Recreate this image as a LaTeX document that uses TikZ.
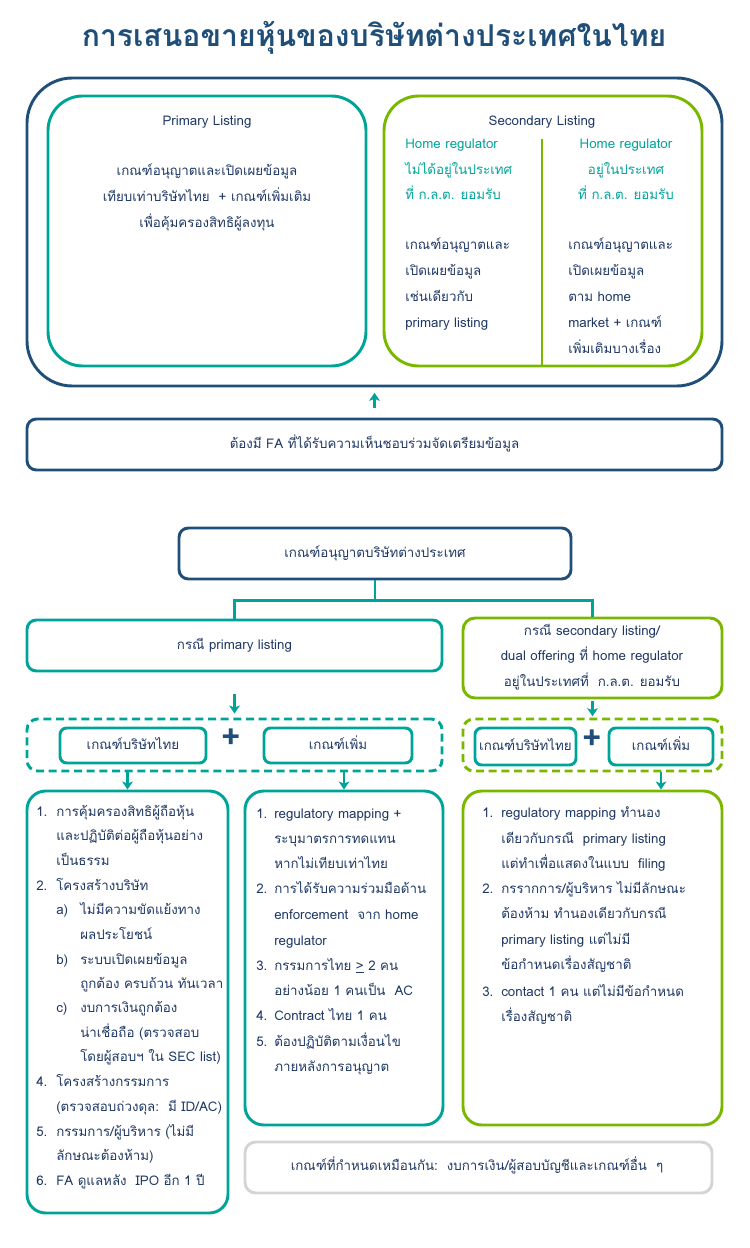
\documentclass[tikz,border=0pt]{standalone}
\usepackage{fontspec}
\setmainfont[Script=Thai]{Loma}
\usetikzlibrary{arrows.meta,fit}

\definecolor{navyline}{RGB}{31,78,121}
\definecolor{tealline}{RGB}{0,163,152}
\definecolor{greenline}{RGB}{122,184,0}
\definecolor{greyline}{RGB}{212,212,212}
\definecolor{inkblue}{RGB}{31,56,100}

\tikzset{
  boxline/.style={draw=#1, line width=2.2pt, inner sep=0pt},
  txt/.style={inner sep=0pt, text height=8pt, text depth=2.5pt},
  lefttxt/.style={txt, anchor=west},
  flow/.style={draw=tealline, line width=2pt, -{Stealth[length=6pt,width=8pt,inset=1.5pt]}},
  branch/.style={draw=tealline, line width=2pt},
  mixdash/.style={dash pattern=on 6pt off 3.5pt},
  plussign/.style={txt, text=navyline, font=\fontsize{25}{25}\selectfont\bfseries},
}

\begin{document}
\begin{tikzpicture}[x=0.75pt, y=-0.75pt, font=\fontsize{10}{12}\selectfont, text=inkblue]
\useasboundingbox (0,0) rectangle (749,1248);

% title
\node[txt, text=navyline, font=\fontsize{22.6}{26}\selectfont\bfseries] (title) at (374,43) {การเสนอขายหุ้นของบริษัทต่างประเทศในไทย};

% listing types
\node[boxline=navyline, rounded corners=34pt, fit={(27,78) (722,386)}] (listing) {};
\node[boxline=tealline, rounded corners=26pt, fit={(48,96) (366,366)}] (primary) {};
\node[boxline=greenline, rounded corners=26pt, fit={(384,96) (702,366)}] (secondary) {};

\node[txt] (primarytitle) at (207,122) {Primary Listing};
\foreach \ypos/\linetext in {172/{เกณฑ์อนุญาตและเปิดเผยข้อมูล},198/{เทียบเท่าบริษัทไทย\ \ + เกณฑ์เพิ่มเติม},224/{เพื่อคุ้มครองสิทธิผู้ลงทุน}}
{
  \node[txt] (p\ypos) at (207,\ypos) {\linetext};
}

\node[txt] (secondarytitle) at (542,122) {Secondary Listing};
\coordinate (divtop) at (542,139);
\draw[greenline, line width=2.2pt] (divtop) -- (divtop |- secondary.south);

\foreach \ypos/\linetext in {145/{Home regulator},171/{ไม่ได้อยู่ในประเทศ},196/{ที่ ก.ล.ต. ยอมรับ}}
{
  \node[lefttxt, text=tealline] (sl\ypos) at (405,\ypos) {\linetext};
  }
\foreach \ypos/\linetext in {246/{เกณฑ์อนุญาตและ},272/{เปิดเผยข้อมูล},298/{เช่นเดียวกับ},324/{primary listing}}
{
  \node[lefttxt] (sl\ypos) at (405,\ypos) {\linetext};
}
\foreach \ypos/\linetext in {145/{Home regulator},171/{อยู่ในประเทศ},196/{ที่ ก.ล.ต. ยอมรับ}}
{
  \node[txt, text=tealline] (sr\ypos) at (626,\ypos) {\linetext};
}
\foreach \ypos/\linetext in {246/{เกณฑ์อนุญาตและ},272/{เปิดเผยข้อมูล},298/{ตาม home},324/{market + เกณฑ์},350/{เพิ่มเติมบางเรื่อง}}
{
  \node[lefttxt] (sr\ypos) at (568,\ypos) {\linetext};
}

% FA
\node[boxline=navyline, rounded corners=7pt, fit={(27,419) (722,470)}] (fa) {};
\node[txt] (fatext) at (fa.center) {ต้องมี FA ที่ได้รับความเห็นชอบร่วมจัดเตรียมข้อมูล};
\draw[flow, shorten <=7pt, shorten >=4pt] (fa.north) -- (listing.south);

% foreign company rules
\node[boxline=navyline, rounded corners=7pt, fit={(179,528) (571,579)}] (rules) {};
\node[txt] (rulestext) at (rules.center) {เกณฑ์อนุญาตบริษัทต่างประเทศ};

\node[boxline=tealline, rounded corners=7pt, fit={(27,620) (442,671)}] (primarycase) {};
\node[txt] (primarycasetext) at (primarycase.center) {กรณี primary listing};
\node[boxline=greenline, rounded corners=9pt, fit={(463,618) (722,698)}] (secondarycase) {};
\foreach \ypos/\linetext in {632/{กรณี secondary listing/},657/{dual offering ที่ home regulator},683/{อยู่ในประเทศที่\ \ ก.ล.ต. ยอมรับ}}
{
  \node[txt] (sc\ypos) at (592,\ypos) {\linetext};
}

\draw[branch] (rules.south) -- ++(0,20) coordinate (split);
\draw[branch] (split) -| (primarycase.north);
\draw[branch] (split) -| (secondarycase.north);

% thai + extra rules
\node[boxline=tealline, mixdash, rounded corners=8pt, fit={(27,719) (442,771)}] (primarymix) {};
\node[boxline=tealline, rounded corners=5pt, fit={(60,728) (206,763)}] (thaiA) {};
\node[txt] (thaiAtext) at (thaiA.center) {เกณฑ์บริษัทไทย};
\node[plussign] (plusA) at (231,745) {+};
\node[boxline=tealline, rounded corners=5pt, fit={(264,728) (412,763)}] (extraA) {};
\node[txt] (extraAtext) at (extraA.center) {เกณฑ์เพิ่ม};

\node[boxline=greenline, mixdash, rounded corners=8pt, fit={(463,719) (722,771)}] (secondarymix) {};
\node[boxline=tealline, rounded corners=5pt, fit={(475,728) (576,765)}] (thaiB) {};
\node[txt] (thaiBtext) at (thaiB.center) {เกณฑ์บริษัทไทย};
\node[plussign] (plusB) at (592,746) {+};
\node[boxline=tealline, rounded corners=5pt, fit={(609,728) (713,765)}] (extraB) {};
\node[txt] (extraBtext) at (extraB.center) {เกณฑ์เพิ่ม};

\draw[flow, shorten <=16pt, shorten >=3pt] (primarycase.south) -- (primarymix.north);
\draw[flow, shorten <=1pt, shorten >=1pt] (secondarycase.south) -- (secondarymix.north);

% detail lists
\node[boxline=tealline, rounded corners=14pt, fit={(27,791) (228,1213)}] (listA) {};
\node[boxline=tealline, rounded corners=14pt, fit={(245,791) (443,1125)}] (listB) {};
\node[boxline=greenline, rounded corners=14pt, fit={(463,791) (722,1125)}] (listC) {};
\node[boxline=greyline, rounded corners=8pt, fit={(245,1142) (712,1193)}] (common) {};
\node[txt] (commontext) at (477,1167) {เกณฑ์ที่กำหนดเหมือนกัน:\ \ งบการเงิน/ผู้สอบบัญชีและเกณฑ์อื่น\ \ ๆ};

\draw[flow] (listA.north |- primarymix.south) -- (listA.north);
\draw[flow] (listB.north |- primarymix.south) -- (listB.north);
\draw[flow] (extraB.south |- secondarymix.south) -- (extraB.south |- listC.north);

\foreach \xpos/\ypos/\linetext in {36/813/{1.},56/813/{การคุ้มครองสิทธิผู้ถือหุ้น},56/837/{และปฏิบัติต่อผู้ถือหุ้นอย่าง},56/862/{เป็นธรรม},
  36/887/{2.},56/887/{โครงสร้างบริษัท},
  56/911/{a)},80/911/{ไม่มีความขัดแย้งทาง},80/936/{ผลประโยชน์},
  56/961/{b)},80/961/{ระบบเปิดเผยข้อมูล},80/985/{ถูกต้อง ครบถ้วน ทันเวลา},
  56/1009/{c)},80/1009/{งบการเงินถูกต้อง},80/1034/{น่าเชื่อถือ (ตรวจสอบ},80/1058/{โดยผู้สอบฯ ใน SEC list)},
  36/1083/{4.},56/1083/{โครงสร้างกรรมการ},56/1108/{(ตรวจสอบถ่วงดุล:\ \ มี ID/AC)},
  36/1133/{5.},56/1133/{กรรมการ/ผู้บริหาร (ไม่มี},56/1157/{ลักษณะต้องห้าม)},
  36/1182/{6.},56/1182/{FA ดูแลหลัง\ \ IPO อีก 1 ปี}}
{
  \node[lefttxt] (a\xpos-\ypos) at (\xpos,\ypos) {\linetext};
}

\foreach \xpos/\ypos/\linetext in {256/815/{1.},274/815/{regulatory mapping +},274/840/{ระบุมาตรการทดแทน},274/865/{หากไม่เทียบเท่าไทย},
  256/890/{2.},274/890/{การได้รับความร่วมมือด้าน},274/916/{enforcement\ \ จาก home},274/942/{regulator},
  256/967/{3.},274/967/{กรรมการไทย \underline{>} 2 คน},274/992/{อย่างน้อย 1 คนเป็น\ \ AC},
  256/1017/{4.},274/1017/{Contract ไทย 1 คน},
  256/1043/{5.},274/1043/{ต้องปฏิบัติตามเงื่อนไข},274/1068/{ภายหลังการอนุญาต}}
{
  \node[lefttxt] (b\xpos-\ypos) at (\xpos,\ypos) {\linetext};
}

\foreach \xpos/\ypos/\linetext in {482/814/{1.},501/814/{regulatory mapping ทำนอง},501/840/{เดียวกับกรณี\ \ primary listing},501/865/{แต่ทำเพื่อแสดงในแบบ\ \ filing},
  482/890/{2.},501/890/{กรรากการ/ผู้บริหาร ไม่มีลักษณะ},501/915/{ต้องห้าม ทำนองเดียวกับกรณี},501/941/{primary listing แต่ไม่มี},501/966/{ข้อกำหนดเรื่องสัญชาติ},
  482/993/{3.},501/993/{contact 1 คน แต่ไม่มีข้อกำหนด},501/1018/{เรื่องสัญชาติ}}
{
  \node[lefttxt] (c\xpos-\ypos) at (\xpos,\ypos) {\linetext};
}
\end{tikzpicture}
\end{document}
